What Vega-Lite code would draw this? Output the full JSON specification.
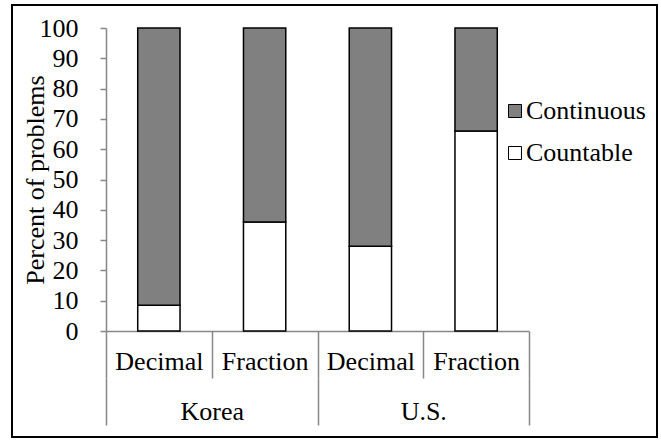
{
  "$schema": "https://vega.github.io/schema/vega-lite/v6.json",
  "autosize": "none",
  "width": 645,
  "height": 432,
  "padding": {"left": 12, "top": 5, "right": 4, "bottom": 5},
  "background": "white",
  "config": {
    "view": {"stroke": "black", "strokeWidth": 2},
    "font": "Liberation Serif",
    "axis": {"labelFont": "Liberation Serif", "titleFont": "Liberation Serif", "labelColor": "black", "titleColor": "black", "labelFontSize": 26, "titleFontSize": 26, "titleFontWeight": "normal", "domainColor": "#878787", "tickColor": "#878787", "domainWidth": 1.5, "tickWidth": 1.5, "grid": false},
    "legend": {"labelFont": "Liberation Serif", "labelFontSize": 26, "labelColor": "black"}
  },
  "data": {
    "values": [
      {"Country": "Korea", "Type": "Decimal", "Key": "Korea|Decimal", "Kind": "Countable", "Percent": 8.5},
      {"Country": "Korea", "Type": "Decimal", "Key": "Korea|Decimal", "Kind": "Continuous", "Percent": 91.5},
      {"Country": "Korea", "Type": "Fraction", "Key": "Korea|Fraction", "Kind": "Countable", "Percent": 36},
      {"Country": "Korea", "Type": "Fraction", "Key": "Korea|Fraction", "Kind": "Continuous", "Percent": 64},
      {"Country": "U.S.", "Type": "Decimal", "Key": "U.S.|Decimal", "Kind": "Countable", "Percent": 28},
      {"Country": "U.S.", "Type": "Decimal", "Key": "U.S.|Decimal", "Kind": "Continuous", "Percent": 72},
      {"Country": "U.S.", "Type": "Fraction", "Key": "U.S.|Fraction", "Kind": "Countable", "Percent": 66},
      {"Country": "U.S.", "Type": "Fraction", "Key": "U.S.|Fraction", "Kind": "Continuous", "Percent": 34}
    ]
  },
  "layer": [
    {
      "mark": {"type": "bar", "width": {"band": 0.4}, "stroke": "black", "strokeWidth": 1.5},
      "encoding": {
        "x": {
          "field": "Key", "type": "nominal", "sort": null,
          "scale": {"range": [94, 517], "paddingInner": 0, "paddingOuter": 0},
          "axis": {"orient": "bottom", "offset": -106, "title": null, "labelAngle": 0, "tickBand": "extent", "tickSize": 47, "labelPadding": -30, "labelExpr": "split(datum.value, '|')[1]"}
        },
        "y": {
          "field": "Percent", "type": "quantitative", "stack": "zero",
          "scale": {"domain": [0, 100], "range": [326, 23], "nice": false},
          "axis": {"orient": "left", "offset": -94, "title": "Percent of problems", "values": [0, 10, 20, 30, 40, 50, 60, 70, 80, 90, 100], "tickSize": 6, "labelPadding": 22, "titlePadding": -9}
        },
        "color": {
          "field": "Kind", "type": "nominal",
          "scale": {"domain": ["Continuous", "Countable"], "range": ["#808080", "#ffffff"]},
          "legend": {"title": null, "orient": "none", "legendX": 490, "legendY": 93, "symbolType": "square", "symbolSize": 169, "symbolStrokeColor": "black", "symbolStrokeWidth": 1, "labelOffset": -2, "rowPadding": 16}
        },
        "order": {"field": "Kind", "sort": "descending"}
      }
    },
    {
      "mark": {"type": "bar", "opacity": 0},
      "encoding": {
        "x": {
          "field": "Country", "type": "nominal",
          "scale": {"range": [94, 517], "paddingInner": 0, "paddingOuter": 0},
          "axis": {"orient": "bottom", "offset": -59, "title": null, "labelAngle": 0, "tickBand": "extent", "tickSize": 47, "labelPadding": -27, "domain": false}
        }
      }
    }
  ],
  "resolve": {"scale": {"x": "independent"}}
}
